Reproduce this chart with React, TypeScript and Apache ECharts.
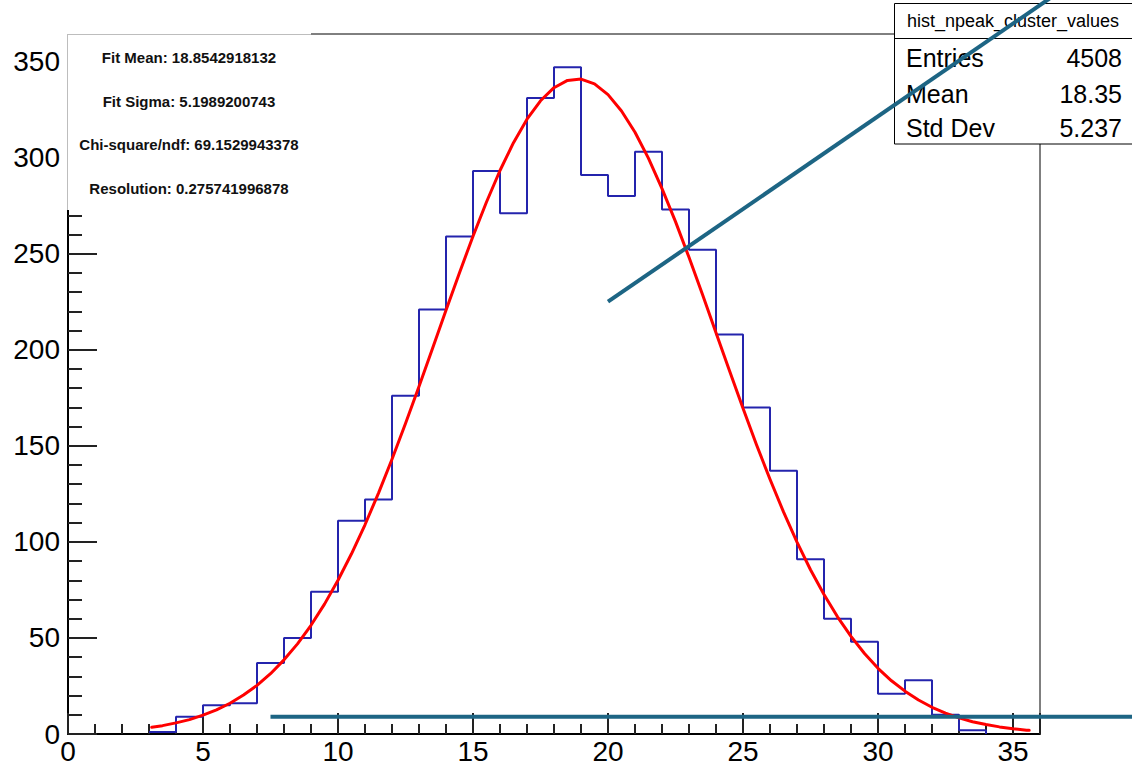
import React, { useEffect, useRef } from 'react';
import * as echarts from 'echarts';

// Histogram: counts per unit-wide bin, bins [0,1), [1,2), ... [35,36)
const binCounts = [
  0, 0, 0, 1, 9, 15, 16, 37, 50, 74, 111, 122, 176, 221, 259, 293, 271, 331,
  347, 291, 280, 303, 273, 252, 208, 170, 137, 91, 60, 48, 21, 28, 10, 2, 0, 0,
];
const binStart = 0;
const binWidth = 1;

// Gaussian fit curve
const fitX = [
  3.1, 3.5, 4, 4.5, 5, 5.5, 6, 6.5, 7, 7.5, 8, 8.5, 9, 9.5, 10, 10.5, 11, 11.5,
  12, 12.5, 13, 13.5, 14, 14.5, 15, 15.5, 16, 16.5, 17, 17.5, 18, 18.5, 19,
  19.5, 20, 20.5, 21, 21.5, 22, 22.5, 23, 23.5, 24, 24.5, 25, 25.5, 26, 26.5,
  27, 27.5, 28, 28.5, 29, 29.5, 30, 30.5, 31, 31.5, 32, 32.5, 33, 33.5, 34,
  34.5, 35, 35.5, 35.6,
];
const fitY = [
  3.5, 4.35, 5.8, 7.5, 9.8, 12.6, 16.0, 20.3, 25.3, 31.4, 38.6, 46.9, 56.6,
  67.6, 80.0, 93.8, 108.9, 125.4, 143.0, 161.6, 180.9, 200.7, 220.5, 240.1,
  259.1, 276.9, 293.3, 307.8, 320.0, 329.6, 336.4, 340.2, 340.9, 338.4, 332.8,
  324.3, 313.2, 299.6, 283.9, 266.7, 248.1, 228.8, 208.9, 189.1, 169.6, 150.6,
  132.6, 115.6, 99.9, 85.5, 72.6, 61.0, 50.8, 41.9, 34.2, 27.7, 22.3, 17.7,
  13.9, 10.9, 8.4, 6.4, 4.9, 3.7, 2.7, 2.0, 1.9,
];

// Two teal annotation lines (data coordinates: x1, y1, x2, y2)
const tealLines = [
  [7.5, 9, 40, 9],
  [20, 225, 40, 418],
];

const xMin = 0;
const xMax = 36;
const yMin = 0;
const yMax = 364.35;

const fitTexts = [
  'Fit Mean: 18.8542918132',
  'Fit Sigma: 5.1989200743',
  'Chi-square/ndf: 69.1529943378',
  'Resolution: 0.275741996878',
];

const statsTitle = 'hist_npeak_cluster_values';
const statsLabels = ['Entries', 'Mean', 'Std Dev'];
const statsValues = ['4508', '18.35', '5.237'];

const FONT = '"Liberation Sans", Arial, Helvetica, sans-serif';
const TEAL = '#1d6584';
const HIST = '#2424ad';

function buildHist(): number[][] {
  const first = binCounts.findIndex((v) => v > 0);
  let last = binCounts.length - 1;
  while (last > 0 && binCounts[last] === 0) last--;
  const pts: number[][] = [];
  for (let i = first; i <= last; i++) {
    pts.push([binStart + i * binWidth, binCounts[i]]);
  }
  pts.push([binStart + (last + 1) * binWidth, 0]);
  return pts;
}

export default function App() {
  const ref = useRef<HTMLDivElement>(null);

  useEffect(() => {
    document.body.style.margin = '0';
    const chart = echarts.init(ref.current!, null, { renderer: 'svg' });

    const fitTextEls = fitTexts.map((t, i) => ({
      type: 'text',
      z: 12,
      x: 189,
      y: [57, 101, 144, 188][i],
      style: {
        text: t,
        fill: '#111',
        font: `bold 15px ${FONT}`,
        align: 'center',
        verticalAlign: 'middle',
      },
    }));

    const statRowY = [58, 94, 128];
    const statEls: any[] = [];
    statsLabels.forEach((lab, i) => {
      statEls.push({
        type: 'text',
        z: 12,
        x: 906,
        y: statRowY[i],
        style: {
          text: lab,
          fill: '#000',
          font: `25px ${FONT}`,
          align: 'left',
          verticalAlign: 'middle',
        },
      });
      statEls.push({
        type: 'text',
        z: 12,
        x: 1122,
        y: statRowY[i],
        style: {
          text: statsValues[i],
          fill: '#000',
          font: `25px ${FONT}`,
          align: 'right',
          verticalAlign: 'middle',
        },
      });
    });

    const option: any = {
      animation: false,
      backgroundColor: '#fff',
      grid: {
        left: 68,
        right: 92,
        top: 34,
        bottom: 31,
        show: true,
        borderColor: '#000',
        borderWidth: 1,
        backgroundColor: 'transparent',
        containLabel: false,
        outerBoundsMode: 'none',
      },
      xAxis: [
        {
          type: 'value',
          min: xMin,
          max: xMax,
          interval: 1,
          position: 'bottom',
          z: 3,
          axisLine: { show: true, onZero: false, lineStyle: { color: '#000', width: 2 } },
          axisTick: { show: true, inside: true, length: 10, lineStyle: { color: '#222', width: 2 } },
          axisLabel: { show: false },
          splitLine: { show: false },
        },
        {
          type: 'value',
          min: xMin,
          max: xMax,
          interval: 5,
          position: 'bottom',
          z: 3,
          axisLine: { show: false, onZero: false },
          axisTick: { show: true, inside: true, length: 21, lineStyle: { color: '#222', width: 2 } },
          axisLabel: {
            show: true,
            margin: 3,
            fontSize: 28,
            fontFamily: FONT,
            color: '#000',
            formatter: (v: number) => (v % 5 === 0 ? String(v) : ''),
          },
          splitLine: { show: false },
        },
      ],
      yAxis: {
        type: 'value',
        min: yMin,
        max: yMax,
        interval: 50,
        z: 3,
        axisLine: { show: true, onZero: false, lineStyle: { color: '#000', width: 2 } },
        axisTick: { show: true, inside: true, length: 29, lineStyle: { color: '#222', width: 2 } },
        minorTick: { show: true, splitNumber: 5, length: 14, lineStyle: { color: '#222', width: 2 } },
        axisLabel: {
          show: true,
          margin: 8,
          fontSize: 28,
          fontFamily: FONT,
          color: '#000',
          formatter: (v: number) => (v % 50 === 0 ? String(v) : ''),
        },
        splitLine: { show: false },
      },
      series: [
        {
          type: 'line',
          name: 'hist',
          xAxisIndex: 0,
          data: buildHist(),
          step: 'end',
          symbol: 'none',
          z: 4,
          lineStyle: { color: HIST, width: 2 },
        },
        {
          type: 'line',
          name: 'fit',
          xAxisIndex: 0,
          data: fitX.map((x, i) => [x, fitY[i]]),
          smooth: false,
          symbol: 'none',
          z: 5,
          lineStyle: { color: '#ff0000', width: 3, join: 'round', cap: 'round' },
        },
        {
          type: 'custom',
          name: 'lines',
          xAxisIndex: 0,
          yAxisIndex: 0,
          clip: false,
          z: 20,
          data: tealLines,
          encode: { x: [0, 2], y: [1, 3] },
          renderItem: (params: any, api: any) => {
            const p1 = api.coord([api.value(0), api.value(1)]);
            const p2 = api.coord([api.value(2), api.value(3)]);
            return {
              type: 'line',
              shape: { x1: p1[0], y1: p1[1], x2: p2[0], y2: p2[1] },
              style: { stroke: TEAL, lineWidth: 4 },
            };
          },
        },
      ],
      graphic: [
        {
          type: 'rect',
          z: 10,
          shape: { x: 67, y: 33, width: 244, height: 177 },
          style: { fill: '#fff', stroke: 'none' },
        },
        {
          type: 'line',
          z: 11,
          shape: { x1: 67.5, y1: 34, x2: 67.5, y2: 210 },
          style: { stroke: '#bdbdbd', lineWidth: 1 },
        },
        {
          type: 'line',
          z: 11,
          shape: { x1: 67, y1: 34.5, x2: 311, y2: 34.5 },
          style: { stroke: '#bdbdbd', lineWidth: 1 },
        },
        ...fitTextEls,
        {
          type: 'rect',
          z: 10,
          shape: { x: 894.5, y: 3.5, width: 260, height: 140.5 },
          style: { fill: '#fff', stroke: '#000', lineWidth: 1 },
        },
        {
          type: 'line',
          z: 11,
          shape: { x1: 894.5, y1: 38.5, x2: 1132, y2: 38.5 },
          style: { stroke: '#000', lineWidth: 1 },
        },
        {
          type: 'text',
          z: 12,
          x: 1013,
          y: 21,
          style: {
            text: statsTitle,
            fill: '#000',
            font: `18px ${FONT}`,
            align: 'center',
            verticalAlign: 'middle',
          },
        },
        ...statEls,
      ],
    };

    chart.setOption(option);
    return () => chart.dispose();
  }, []);

  return <div ref={ref} style={{ width: 1132, height: 765 }} />;
}
